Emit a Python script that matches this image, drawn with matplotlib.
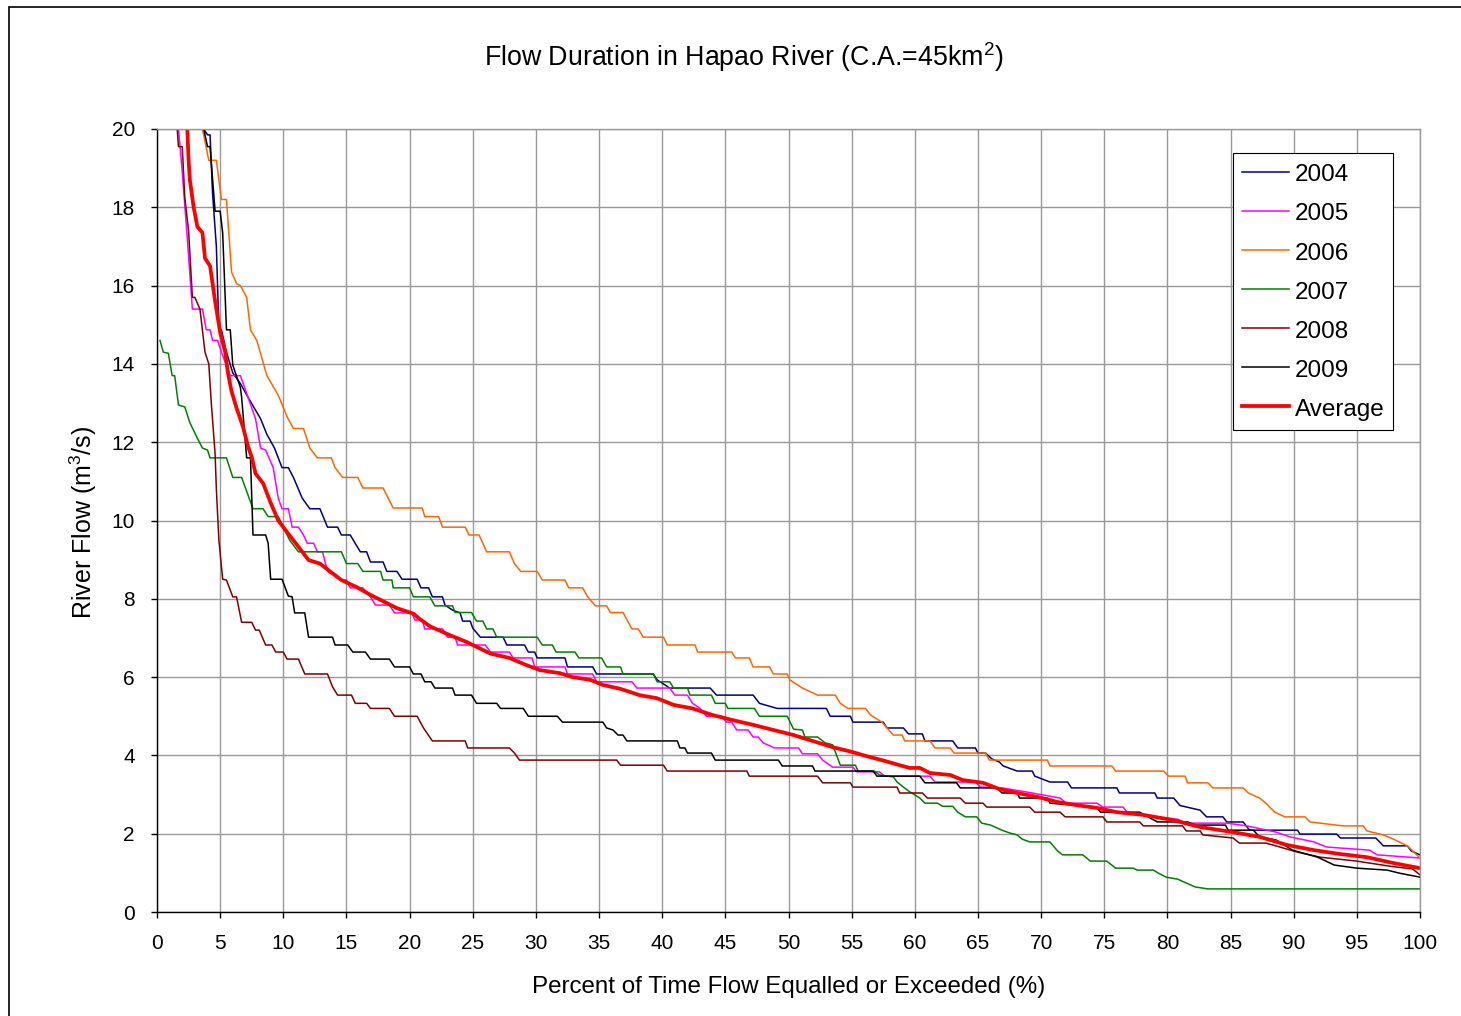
import matplotlib
matplotlib.use("Agg")
from matplotlib import pyplot as plt
from matplotlib.patches import Rectangle

plt.rcParams['font.family'] = ['Liberation Sans', 'DejaVu Sans']
plt.rcParams['mathtext.fontset'] = 'custom'
plt.rcParams['mathtext.rm'] = 'Liberation Sans'

# flow duration curves (x = % of time, y = m3/s)
x_2004 = [3.7, 4.0, 4.2, 4.4, 4.7, 4.9, 5.1, 5.5, 6.0, 6.6, 7.2, 7.8, 8.2, 8.7, 9.3, 9.9, 10.4, 10.8,
          11.5, 12.1, 12.9, 13.5, 14.3, 14.6, 15.3, 16.1, 16.6, 16.9, 17.9, 18.2, 19.0, 19.4, 20.6, 20.9,
          21.5, 21.8, 22.6, 22.8, 23.4, 24.0, 24.2, 24.8, 25.0, 25.6, 27.4, 27.7, 29.1, 29.4, 29.9, 30.1,
          32.3, 32.5, 34.5, 34.8, 39.3, 39.6, 40.6, 43.8, 44.3, 47.2, 47.7, 49.1, 53.0, 53.3, 54.9, 55.1,
          57.5, 57.8, 59.1, 59.5, 60.6, 60.8, 63.0, 63.4, 64.8, 65.0, 65.6, 66.1, 66.7, 67.0, 68.1, 69.3,
          69.5, 70.7, 72.1, 72.4, 76.0, 76.2, 79.0, 79.2, 80.5, 81.0, 82.6, 83.1, 84.4, 84.7, 86.0, 86.5,
          90.3, 90.5, 93.4, 93.7, 96.5, 97.1, 99.0, 99.3, 100.0]
y_2004 = [20.0, 19.85, 19.85, 18.35, 17.0, 14.87, 14.87, 14.3, 13.77, 13.5, 13.15, 12.82, 12.6, 12.2,
          11.85, 11.35, 11.35, 11.1, 10.57, 10.3, 10.3, 9.83, 9.83, 9.63, 9.63, 9.2, 9.2, 8.94, 8.94, 8.7,
          8.7, 8.5, 8.5, 8.28, 8.28, 8.05, 8.05, 7.84, 7.71, 7.64, 7.43, 7.43, 7.25, 7.02, 7.02, 6.82, 6.82,
          6.64, 6.64, 6.49, 6.49, 6.26, 6.26, 6.08, 6.08, 5.93, 5.72, 5.72, 5.54, 5.54, 5.33, 5.2, 5.2, 5.0,
          5.0, 4.85, 4.85, 4.7, 4.7, 4.55, 4.55, 4.37, 4.37, 4.19, 4.19, 4.06, 4.06, 3.91, 3.83, 3.73, 3.6,
          3.6, 3.47, 3.32, 3.32, 3.17, 3.17, 3.04, 3.04, 2.91, 2.91, 2.72, 2.6, 2.43, 2.43, 2.3, 2.3, 2.09,
          2.09, 1.99, 1.99, 1.89, 1.89, 1.69, 1.69, 1.56, 1.46]

x_2005 = [1.7, 2.0, 2.4, 2.6, 2.8, 3.6, 3.9, 4.2, 4.4, 4.8, 5.1, 5.8, 6.6, 7.2, 7.8, 8.2, 8.6, 9.2, 9.6,
          9.9, 10.4, 10.7, 11.2, 11.6, 11.9, 12.4, 12.7, 13.1, 13.5, 13.9, 14.5, 15.0, 15.3, 16.3, 16.9,
          17.3, 18.4, 18.8, 20.2, 20.4, 21.0, 21.2, 22.6, 23.0, 23.6, 23.8, 26.0, 26.4, 27.9, 28.2, 29.7,
          29.9, 32.3, 32.5, 34.5, 34.8, 37.6, 38.0, 40.6, 41.0, 42.0, 42.4, 43.0, 43.5, 44.7, 45.1, 45.5,
          45.9, 46.8, 47.2, 47.6, 48.0, 48.9, 50.8, 51.1, 52.3, 52.7, 53.5, 55.1, 55.4, 57.2, 57.6, 61.2,
          61.6, 64.8, 65.2, 66.9, 69.3, 71.5, 72.0, 74.4, 74.9, 76.5, 76.8, 79.0, 80.8, 81.5, 84.7, 86.3,
          88.6, 89.7, 91.6, 92.6, 96.0, 96.6, 100.0]
y_2005 = [20.0, 18.9, 17.2, 16.3, 15.4, 15.4, 14.87, 14.87, 14.6, 14.6, 14.3, 13.7, 13.7, 13.15, 12.6,
          11.85, 11.8, 11.35, 10.57, 10.3, 10.3, 9.83, 9.83, 9.63, 9.42, 9.42, 9.2, 9.2, 8.7, 8.63, 8.48,
          8.48, 8.28, 8.28, 8.05, 7.84, 7.84, 7.64, 7.64, 7.46, 7.46, 7.23, 7.23, 7.02, 7.02, 6.82, 6.82,
          6.64, 6.64, 6.49, 6.49, 6.26, 6.26, 6.08, 6.08, 5.88, 5.88, 5.72, 5.72, 5.54, 5.54, 5.33, 5.2,
          5.0, 5.0, 4.85, 4.85, 4.65, 4.65, 4.47, 4.47, 4.32, 4.19, 4.19, 4.04, 4.04, 3.88, 3.7, 3.7, 3.58,
          3.58, 3.47, 3.47, 3.32, 3.32, 3.19, 3.17, 3.04, 2.91, 2.78, 2.78, 2.68, 2.68, 2.55, 2.43, 2.37,
          2.27, 2.27, 2.2, 2.04, 1.92, 1.79, 1.66, 1.58, 1.46, 1.38]

x_2006 = [3.6, 4.1, 4.7, 5.1, 5.5, 5.9, 6.3, 6.6, 7.1, 7.4, 7.9, 8.7, 9.6, 10.3, 10.8, 11.6, 12.1, 12.7,
          13.8, 14.1, 14.7, 15.9, 16.3, 17.9, 18.7, 21.0, 21.2, 22.3, 22.6, 24.4, 24.7, 25.5, 26.1, 27.9,
          28.3, 28.8, 30.1, 30.5, 32.3, 32.6, 33.7, 34.1, 34.7, 35.6, 35.9, 36.9, 37.6, 38.1, 38.5, 40.1,
          40.4, 42.6, 42.8, 45.5, 45.8, 46.9, 47.2, 48.5, 48.8, 49.9, 50.1, 51.1, 52.3, 53.7, 54.1, 54.7,
          56.1, 56.5, 57.4, 57.8, 58.3, 59.0, 59.2, 61.2, 61.6, 62.8, 63.1, 65.6, 65.9, 70.5, 70.7, 75.6,
          75.9, 79.7, 80.1, 81.4, 81.6, 83.2, 83.6, 86.0, 86.4, 87.3, 87.8, 88.5, 89.3, 90.9, 91.3, 93.9,
          95.5, 95.8, 97.1, 97.9, 99.0, 100.0]
y_2006 = [20.0, 19.2, 19.2, 18.2, 18.2, 16.35, 16.05, 16.0, 15.7, 14.87, 14.6, 13.7, 13.2, 12.65, 12.35,
          12.35, 11.85, 11.6, 11.6, 11.35, 11.1, 11.1, 10.83, 10.83, 10.32, 10.32, 10.1, 10.1, 9.83, 9.83,
          9.63, 9.63, 9.2, 9.2, 8.9, 8.7, 8.7, 8.48, 8.48, 8.28, 8.28, 8.05, 7.82, 7.82, 7.65, 7.65, 7.23,
          7.23, 7.02, 7.02, 6.82, 6.82, 6.64, 6.64, 6.49, 6.49, 6.26, 6.26, 6.08, 6.08, 5.93, 5.72, 5.54,
          5.54, 5.33, 5.2, 5.2, 5.03, 4.85, 4.7, 4.52, 4.52, 4.37, 4.37, 4.19, 4.19, 4.06, 4.06, 3.88, 3.88,
          3.73, 3.73, 3.6, 3.6, 3.47, 3.47, 3.3, 3.3, 3.17, 3.17, 3.04, 2.91, 2.78, 2.55, 2.43, 2.43, 2.3,
          2.2, 2.2, 2.07, 1.97, 1.86, 1.69, 1.38]

x_2007 = [0.24, 0.5, 0.9, 1.2, 1.4, 1.7, 2.2, 2.6, 3.2, 3.6, 4.0, 4.2, 5.5, 6.0, 6.7, 7.6, 8.4, 8.8, 9.6,
          10.5, 11.2, 14.6, 15.0, 15.9, 16.3, 17.7, 17.9, 18.6, 18.7, 20.0, 20.3, 21.6, 22.0, 23.4, 23.6,
          24.9, 25.3, 25.8, 26.1, 26.6, 26.9, 30.1, 30.5, 31.3, 31.6, 33.1, 33.4, 35.2, 35.6, 36.7, 36.9,
          39.3, 39.6, 40.6, 40.9, 42.0, 42.2, 43.9, 44.2, 45.0, 45.2, 47.3, 47.7, 49.9, 50.4, 51.1, 51.3,
          52.3, 52.9, 53.5, 54.1, 55.3, 55.5, 56.8, 57.2, 58.3, 58.6, 59.1, 59.6, 60.4, 60.8, 61.8, 62.2,
          63.0, 63.4, 64.0, 64.9, 65.3, 66.0, 66.9, 67.5, 68.1, 68.5, 69.1, 70.7, 71.3, 71.7, 73.3, 73.9,
          75.2, 75.9, 77.3, 77.6, 78.9, 79.3, 79.9, 80.8, 81.5, 82.2, 83.2, 100.0]
y_2007 = [14.6, 14.3, 14.27, 13.7, 13.7, 12.95, 12.9, 12.5, 12.1, 11.85, 11.8, 11.6, 11.6, 11.1, 11.1,
          10.3, 10.3, 10.1, 10.1, 9.5, 9.2, 9.2, 8.9, 8.9, 8.7, 8.7, 8.48, 8.48, 8.28, 8.28, 8.05, 8.05,
          7.82, 7.82, 7.65, 7.65, 7.43, 7.43, 7.23, 7.23, 7.02, 7.02, 6.82, 6.82, 6.64, 6.64, 6.49, 6.49,
          6.26, 6.26, 6.08, 6.08, 5.88, 5.88, 5.72, 5.72, 5.54, 5.54, 5.33, 5.33, 5.2, 5.2, 5.0, 5.0, 4.67,
          4.65, 4.47, 4.47, 4.32, 4.27, 3.75, 3.75, 3.6, 3.6, 3.5, 3.45, 3.32, 3.19, 3.07, 2.91, 2.78, 2.78,
          2.7, 2.7, 2.55, 2.43, 2.43, 2.27, 2.22, 2.09, 2.02, 1.97, 1.86, 1.79, 1.79, 1.56, 1.46, 1.46, 1.3,
          1.3, 1.12, 1.12, 1.07, 1.07, 0.99, 0.89, 0.84, 0.74, 0.64, 0.59, 0.59]

x_2008 = [1.6, 1.7, 2.0, 2.2, 2.5, 2.8, 3.0, 3.4, 3.8, 4.1, 4.3, 4.6, 4.7, 4.9, 5.2, 5.5, 6.0, 6.3, 6.7,
          7.5, 7.8, 8.1, 8.6, 9.1, 9.4, 10.0, 10.3, 11.2, 11.7, 13.5, 13.9, 14.3, 15.4, 15.7, 16.6, 16.9,
          18.4, 18.8, 20.6, 21.1, 21.8, 24.4, 24.6, 27.9, 28.3, 28.7, 36.4, 36.7, 40.1, 40.4, 46.7, 46.9,
          52.3, 52.7, 54.9, 55.1, 58.6, 58.8, 60.6, 61.0, 63.6, 64.0, 65.4, 65.7, 69.1, 69.5, 71.5, 71.9,
          74.9, 75.2, 77.8, 78.1, 81.2, 81.5, 82.6, 82.8, 85.2, 85.7, 87.8, 88.9, 90.3, 92.1, 95.0, 97.6,
          99.4, 100.0]
y_2008 = [20.0, 19.55, 19.55, 18.25, 17.4, 15.7, 15.7, 15.4, 14.3, 14.0, 13.0, 11.7, 10.8, 9.5, 8.5,
          8.48, 8.05, 8.05, 7.4, 7.4, 7.2, 7.2, 6.82, 6.82, 6.64, 6.64, 6.46, 6.46, 6.08, 6.08, 5.75, 5.54,
          5.54, 5.33, 5.33, 5.2, 5.2, 5.0, 5.0, 4.7, 4.37, 4.37, 4.19, 4.19, 4.06, 3.88, 3.88, 3.75, 3.75,
          3.6, 3.6, 3.47, 3.47, 3.3, 3.3, 3.19, 3.19, 3.04, 3.04, 2.91, 2.91, 2.78, 2.78, 2.68, 2.68, 2.55,
          2.55, 2.43, 2.43, 2.3, 2.3, 2.2, 2.2, 2.07, 2.07, 1.97, 1.89, 1.76, 1.76, 1.66, 1.53, 1.4, 1.3,
          1.17, 1.1, 0.95]

x_2009 = [3.7, 4.0, 4.2, 4.6, 5.0, 5.2, 5.5, 5.8, 6.0, 6.6, 6.7, 7.1, 7.4, 7.6, 8.6, 8.8, 9.0, 9.9, 10.4,
          10.7, 10.9, 11.7, 12.0, 13.9, 14.1, 15.1, 15.5, 16.5, 16.9, 18.4, 18.8, 20.0, 20.3, 20.9, 21.2,
          21.7, 22.0, 23.4, 23.6, 24.9, 25.3, 26.9, 27.2, 29.0, 29.4, 31.7, 32.1, 35.3, 35.6, 36.1, 36.5,
          36.9, 37.2, 41.2, 41.4, 41.8, 42.0, 43.9, 44.2, 49.2, 49.5, 51.9, 52.1, 56.7, 57.0, 60.4, 60.8,
          63.3, 63.6, 66.5, 66.9, 68.1, 68.3, 70.5, 70.7, 74.4, 74.7, 77.8, 79.2, 81.6, 82.2, 84.6, 84.8,
          86.8, 87.3, 88.6, 89.9, 91.9, 93.2, 95.0, 97.4, 98.4, 100.0]
y_2009 = [20.0, 19.55, 19.55, 17.9, 17.9, 17.35, 14.87, 14.87, 13.97, 13.4, 13.15, 11.6, 11.6, 9.63,
          9.63, 9.42, 8.5, 8.5, 8.07, 8.05, 7.64, 7.64, 7.02, 7.02, 6.82, 6.82, 6.64, 6.64, 6.46, 6.46,
          6.26, 6.26, 6.08, 6.08, 5.88, 5.88, 5.72, 5.72, 5.54, 5.54, 5.33, 5.33, 5.2, 5.2, 5.0, 5.0, 4.85,
          4.85, 4.7, 4.65, 4.52, 4.52, 4.37, 4.37, 4.19, 4.19, 4.06, 4.06, 3.88, 3.88, 3.73, 3.73, 3.6,
          3.6, 3.47, 3.47, 3.3, 3.3, 3.17, 3.17, 3.04, 3.04, 2.91, 2.91, 2.78, 2.68, 2.55, 2.55, 2.3, 2.3,
          2.22, 2.22, 2.09, 2.09, 1.92, 1.84, 1.58, 1.4, 1.2, 1.12, 1.07, 0.99, 0.89]

x_avg = [2.4, 2.5, 2.6, 2.9, 3.2, 3.6, 3.8, 4.0, 4.2, 4.6, 5.0, 5.4, 5.6, 5.9, 6.3, 6.8, 7.2, 7.5, 7.8,
         8.4, 9.0, 9.6, 10.3, 11.1, 12.0, 12.9, 13.7, 14.6, 15.8, 16.9, 17.9, 19.0, 20.3, 20.7, 21.6, 23.2,
         24.5, 26.4, 27.9, 29.3, 30.3, 31.9, 32.9, 34.3, 35.3, 36.7, 38.2, 39.6, 40.9, 42.4, 44.0, 45.6,
         47.2, 48.8, 50.4, 51.9, 53.5, 54.9, 56.2, 57.5, 58.8, 59.6, 60.4, 61.2, 62.8, 63.8, 65.4, 66.7,
         68.1, 69.7, 71.3, 72.8, 74.4, 76.0, 78.1, 80.4, 82.6, 85.2, 87.3, 89.5, 91.6, 93.7, 95.8, 97.9,
         100.0]
y_avg = [20.0, 19.2, 18.7, 18.0, 17.5, 17.35, 16.7, 16.6, 16.5, 15.6, 14.8, 14.3, 13.8, 13.3, 12.87,
         12.4, 11.9, 11.62, 11.2, 10.95, 10.45, 10.0, 9.7, 9.37, 8.99, 8.9, 8.7, 8.48, 8.3, 8.1, 7.94,
         7.76, 7.62, 7.51, 7.3, 7.07, 6.9, 6.6, 6.49, 6.3, 6.18, 6.1, 6.0, 5.93, 5.8, 5.7, 5.54, 5.46, 5.29,
         5.2, 5.03, 4.9, 4.78, 4.65, 4.52, 4.37, 4.21, 4.1, 3.98, 3.87, 3.75, 3.68, 3.68, 3.55, 3.5, 3.37,
         3.3, 3.14, 3.04, 2.94, 2.81, 2.73, 2.66, 2.55, 2.48, 2.35, 2.17, 2.04, 1.92, 1.71, 1.58, 1.48,
         1.4, 1.25, 1.12]

series = [
    ("2004", x_2004, y_2004, "#000080", 1.1),
    ("2005", x_2005, y_2005, "#FF00FF", 1.1),
    ("2006", x_2006, y_2006, "#FF6600", 1.1),
    ("2007", x_2007, y_2007, "#008000", 1.1),
    ("2008", x_2008, y_2008, "#800000", 1.1),
    ("2009", x_2009, y_2009, "#000000", 1.1),
    ("Average", x_avg, y_avg, "#FF0000", 2.7),
]

x_ticks = list(range(0, 101, 5))
y_ticks = list(range(0, 21, 2))

fig = plt.figure(figsize=(14.61, 10.16), dpi=100)
ax = fig.add_axes([157 / 1461, 1 - 912 / 1016, 1263 / 1461, 783 / 1016])

for name, xs, ys, color, lw in series:
    ax.plot(xs, ys, color=color, linewidth=lw, label=name)

ax.set_xlim(0, 100)
ax.set_ylim(0, 20)
ax.set_xticks(x_ticks)
ax.set_yticks(y_ticks)
ax.grid(True, color="#999999", linewidth=1.0)
ax.set_axisbelow(True)
ax.tick_params(axis="both", direction="out", length=4, width=1, labelsize=15, pad=12, color="black")
ax.spines["left"].set_color("black")
ax.spines["bottom"].set_color("black")
ax.spines["top"].set_color("#999999")
ax.spines["right"].set_color("#999999")
for s in ax.spines.values():
    s.set_linewidth(1.0)

leg = ax.legend(loc="upper left", bbox_to_anchor=((1233 - 157) / 1263, (912 - 153) / 783),
                borderaxespad=0, fontsize=17.5, frameon=True, fancybox=False, framealpha=1,
                edgecolor="black", handlelength=1.95, handletextpad=0.22, borderpad=0.36,
                labelspacing=0.6, handleheight=1.05)
leg.get_frame().set_linewidth(0.8)

fig.text(744 / 1461, 1 - 57 / 1016, r"Flow Duration in Hapao River (C.A.=45km$\mathregular{^2}$)",
         ha="center", va="center", fontsize=19.3)
fig.text(789 / 1461, 1 - 987 / 1016, "Percent of Time Flow Equalled or Exceeded (%)",
         ha="center", va="center", fontsize=17.4)
fig.text(83 / 1461, 1 - 522 / 1016, r"River Flow (m$\mathregular{^3}$/s)",
         ha="center", va="center", rotation=90, fontsize=18)

# outer chart border (only top and left edges fall inside the image)
fig.patches.append(Rectangle((9 / 1461, -0.05), 1.2, 1.05 - 7 / 1016, transform=fig.transFigure,
                             fill=False, edgecolor="black", linewidth=1.2))

fig.savefig("out.png", dpi=100)
